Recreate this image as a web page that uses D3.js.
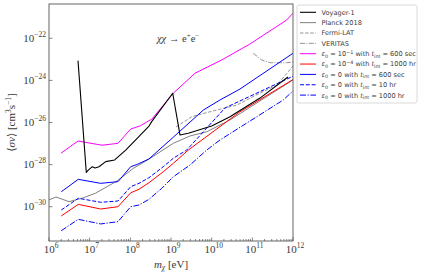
<!DOCTYPE html>
<html>
<head>
<meta charset="utf-8">
<script src="https://cdn.jsdelivr.net/npm/d3@7"></script>
<style>
  body { margin: 0; background: #fff; }
  svg { display: block; }
</style>
</head>
<body>
<div id="chart"></div>
<script>
// values are [log10 mass (eV), log10 <sigma v> (cm^3/s)]
const voyager = [[6.713, -23.06], [6.917, -28.37], [6.966, -28.26], [7.065, -28.10], [7.131, -28.16],
  [7.229, -28.10], [7.394, -27.86], [7.615, -27.78], [7.886, -27.31], [8.132, -26.83], [8.459, -26.17],
  [8.525, -25.96], [9.042, -24.61], [9.221, -26.59], [9.425, -26.51], [10.0, -26.17], [10.45, -25.73],
  [11.188, -24.84], [11.876, -23.84]];
const planck = [[6.0, -29.68], [6.172, -29.54], [6.492, -29.76], [6.811, -29.60], [7.143, -29.36],
  [7.672, -28.78], [8.073, -28.18], [8.45, -27.75], [9.056, -26.99], [9.467, -26.64], [9.878, -26.44],
  [10.45, -25.88], [12.0, -23.98]];
const fermi = [[9.123, -26.21], [9.516, -25.72], [9.959, -25.49], [10.623, -25.17], [11.188, -24.60],
  [11.606, -24.22], [12.0, -23.32]];
const veritas = [[11.023, -22.71], [11.23, -23.03], [11.434, -23.16], [11.845, -23.16], [12.0, -23.13]];
const eps1Short = [[6.295, -27.46], [6.713, -26.88], [7.303, -27.08], [7.697, -26.99], [8.009, -26.31],
  [8.255, -26.15], [8.459, -25.91], [8.525, -25.85], [9.056, -24.61], [9.59, -23.66], [10.246, -23.03],
  [10.942, -22.27], [11.845, -21.13], [12.0, -20.81]];
const eps4Long = [[6.302, -30.44], [6.72, -29.89], [7.271, -30.11], [7.697, -30.0], [8.009, -29.34],
  [8.213, -29.17], [8.459, -28.86], [8.81, -28.34], [9.056, -27.94], [9.425, -27.31], [10.696, -25.49],
  [12.0, -23.96]];
const zeroShort = [[6.302, -29.29], [6.72, -28.70], [7.271, -28.89], [7.697, -28.81], [8.009, -28.10],
  [8.171, -27.99], [8.459, -27.73], [9.056, -26.70], [9.794, -25.41], [10.205, -24.93], [10.696, -24.41],
  [12.0, -22.71]];
const zeroMid = [[6.302, -30.16], [6.72, -29.60], [7.271, -29.79], [7.697, -29.73], [8.009, -29.05],
  [8.213, -28.89], [8.459, -28.62], [8.81, -28.10], [9.056, -27.70], [9.386, -27.31], [10.327, -25.31],
  [12.0, -23.80]];
const zeroLong = [[6.302, -31.14], [6.72, -30.60], [7.271, -30.82], [7.697, -30.71], [8.009, -30.0],
  [8.213, -29.92], [8.459, -29.65], [8.771, -29.13], [9.056, -28.58], [9.467, -28.02], [9.878, -27.31],
  [10.205, -26.83], [11.761, -24.93], [12.0, -24.50]];

const xTickExps = [6, 7, 8, 9, 10, 11, 12];
const yTickExps = [-22, -24, -26, -28, -30];

const W = 421, H = 276;
const margin = { left: 49, top: 4, right: 293, bottom: 241 };

const svg = d3.select('#chart').append('svg')
  .attr('width', W)
  .attr('height', H);

const x = d3.scaleLog().domain([1e6, 1e12]).range([margin.left, margin.right]);
const y = d3.scaleLog().domain([Math.pow(10, -31.63), Math.pow(10, -20.37)]).range([margin.bottom, margin.top]);

const serif = '"Liberation Serif", "DejaVu Serif", serif';
const sans = '"DejaVu Sans", sans-serif';
const textColor = '#3a3a3a';

svg.append('defs').append('clipPath').attr('id', 'clip')
  .append('rect')
  .attr('x', margin.left).attr('y', margin.top)
  .attr('width', margin.right - margin.left)
  .attr('height', margin.bottom - margin.top);

const series = [
  { name: 'Voyager-1', data: voyager, color: '#000', dash: null, width: 1.1 },
  { name: 'Planck 2018', data: planck, color: '#808080', dash: null, width: 1.0 },
  { name: 'Fermi-LAT', data: fermi, color: '#808080', dash: '3.5,1.6', width: 0.85 },
  { name: 'VERITAS', data: veritas, color: '#808080', dash: '5,1.4,1,1.4', width: 0.85 },
  { name: 'eps1', data: eps1Short, color: '#ff00ff', dash: null, width: 1.0 },
  { name: 'eps4', data: eps4Long, color: '#ff0000', dash: null, width: 1.0 },
  { name: 'zero600', data: zeroShort, color: '#0000ff', dash: null, width: 1.0 },
  { name: 'zero10', data: zeroMid, color: '#0000ff', dash: '4,1.8', width: 1.0 },
  { name: 'zero1000', data: zeroLong, color: '#0000ff', dash: '6,1.6,1.2,1.6', width: 1.0 },
];

const line = d3.line()
  .x(d => x(Math.pow(10, d[0])))
  .y(d => y(Math.pow(10, d[1])));

const plot = svg.append('g').attr('clip-path', 'url(#clip)');

// draw order: bounds under the black voyager curve
const drawOrder = [1, 2, 3, 4, 5, 6, 7, 8, 0];
drawOrder.forEach(i => {
  const s = series[i];
  plot.append('path')
    .attr('d', line(s.data))
    .attr('fill', 'none')
    .attr('stroke', s.color)
    .attr('stroke-width', s.width)
    .attr('stroke-dasharray', s.dash)
    .attr('stroke-linejoin', 'round');
});

// frame
svg.append('rect')
  .attr('x', margin.left).attr('y', margin.top)
  .attr('width', margin.right - margin.left)
  .attr('height', margin.bottom - margin.top)
  .attr('fill', 'none')
  .attr('stroke', '#555')
  .attr('stroke-width', 0.9);

// x ticks (inward) with minor ticks
const axisG = svg.append('g').attr('stroke', '#555').attr('stroke-width', 0.7);
xTickExps.forEach(e => {
  const px = x(Math.pow(10, e));
  axisG.append('line').attr('x1', px).attr('x2', px)
    .attr('y1', margin.bottom).attr('y2', margin.bottom - 3.5);
  if (e < 12) {
    for (let k = 2; k < 10; k++) {
      const mx = x(k * Math.pow(10, e));
      axisG.append('line').attr('x1', mx).attr('x2', mx)
        .attr('y1', margin.bottom).attr('y2', margin.bottom - 2);
    }
  }
  const t = svg.append('text')
    .attr('x', px + 2).attr('y', 253)
    .attr('text-anchor', 'middle')
    .attr('font-family', serif).attr('font-size', 11).attr('fill', textColor);
  t.append('tspan').text('10');
  t.append('tspan').attr('dy', -5).attr('font-size', 7.5).text(e);
});

yTickExps.forEach(e => {
  const py = y(Math.pow(10, e));
  axisG.append('line').attr('x1', margin.left).attr('x2', margin.left + 3.5)
    .attr('y1', py).attr('y2', py);
  const t = svg.append('text')
    .attr('x', 46).attr('y', py + 3.8)
    .attr('text-anchor', 'end')
    .attr('font-family', serif).attr('font-size', 11).attr('fill', textColor);
  t.append('tspan').text('10');
  t.append('tspan').attr('dy', -5).attr('font-size', 7.5).text('\u2212' + (-e));
});

// axis labels
const xl = svg.append('text')
  .attr('x', (margin.left + margin.right) / 2).attr('y', 268)
  .attr('text-anchor', 'middle')
  .attr('font-family', serif).attr('font-size', 11).attr('fill', textColor);
xl.append('tspan').attr('font-style', 'italic').text('m');
xl.append('tspan').attr('dy', 2).attr('font-size', 7.5).attr('font-style', 'italic').text('\u03c7');
xl.append('tspan').attr('dy', -2).text(' [eV]');

const yl = svg.append('text')
  .attr('transform', `translate(15, ${(margin.top + margin.bottom) / 2}) rotate(-90)`)
  .attr('text-anchor', 'middle')
  .attr('font-family', serif).attr('font-size', 11).attr('fill', textColor);
yl.append('tspan').text('\u27e8');
yl.append('tspan').attr('font-style', 'italic').text('\u03c3v');
yl.append('tspan').text('\u27e9 [cm');
yl.append('tspan').attr('dy', -4).attr('font-size', 7.5).text('3');
yl.append('tspan').attr('dy', 4).text('s');
yl.append('tspan').attr('dy', -4).attr('font-size', 7.5).text('\u22121');
yl.append('tspan').attr('dy', 4).text(']');

// process annotation
const ann = svg.append('text')
  .attr('x', 157).attr('y', 42)
  .attr('font-family', serif).attr('font-size', 10.5).attr('fill', textColor);
ann.append('tspan').attr('font-style', 'italic').text('\u03c7\u03c7');
ann.append('tspan').text(' \u2192 e');
ann.append('tspan').attr('dy', -4).attr('font-size', 7).text('+');
ann.append('tspan').attr('dy', 4).text('e');
ann.append('tspan').attr('dy', -4).attr('font-size', 7).text('\u2212');

// legend
const legend = svg.append('g');
legend.append('rect')
  .attr('x', 297).attr('y', 5)
  .attr('width', 120).attr('height', 98)
  .attr('rx', 2)
  .attr('fill', '#fff')
  .attr('stroke', '#d0d0d0')
  .attr('stroke-width', 0.8);

const legendLabels = [
  [['Voyager-1']],
  [['Planck 2018']],
  [['Fermi-LAT']],
  [['VERITAS']],
  [['\u03b5', 'i'], ['0', 'sub'], [' = 10'], ['\u22121', 'sup'], [' with '], ['t', 'i'], ['int', 'sub'], [' = 600 sec']],
  [['\u03b5', 'i'], ['0', 'sub'], [' = 10'], ['\u22124', 'sup'], [' with '], ['t', 'i'], ['int', 'sub'], [' = 1000 hr']],
  [['\u03b5', 'i'], ['0', 'sub'], [' = 0 with '], ['t', 'i'], ['int', 'sub'], [' = 600 sec']],
  [['\u03b5', 'i'], ['0', 'sub'], [' = 0 with '], ['t', 'i'], ['int', 'sub'], [' = 10 hr']],
  [['\u03b5', 'i'], ['0', 'sub'], [' = 0 with '], ['t', 'i'], ['int', 'sub'], [' = 1000 hr']],
];

series.forEach((s, i) => {
  const cy = 12.3 + i * 10.35;
  legend.append('line')
    .attr('x1', 300).attr('x2', 316)
    .attr('y1', cy).attr('y2', cy)
    .attr('stroke', s.color)
    .attr('stroke-width', s.width)
    .attr('stroke-dasharray', s.dash);
  const t = legend.append('text')
    .attr('x', 321.5).attr('y', cy + 2.4)
    .attr('font-family', sans).attr('font-size', 6.6).attr('fill', textColor);
  let shift = 0;
  legendLabels[i].forEach(([txt, kind]) => {
    const ts = t.append('tspan').text(txt);
    let target = 0;
    if (kind === 'sub') { target = 1.5; ts.attr('font-size', 4.8); }
    if (kind === 'sup') { target = -2.5; ts.attr('font-size', 4.8); }
    if (kind === 'i') ts.attr('font-style', 'italic');
    ts.attr('dy', target - shift);
    shift = target;
  });
});
</script>
</body>
</html>
